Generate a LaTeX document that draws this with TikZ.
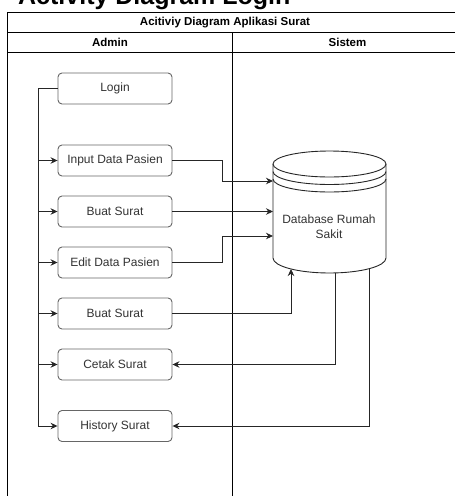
\documentclass[tikz,border=0pt]{standalone}
\usepackage{fontspec}
\setmainfont{Liberation Sans}
\usetikzlibrary{arrows.meta}
\definecolor{boxline}{HTML}{666666}
\definecolor{txt}{HTML}{333333}
\begin{document}
\begin{tikzpicture}[x=1pt,y=-1pt,
  act/.style={draw=boxline,line width=0.9pt,rounded corners=4pt,fill=white,
    minimum width=114pt,minimum height=31pt,inner sep=0pt,text=txt,
    font=\fontsize{12}{14}\selectfont},
  conn/.style={line width=0.9pt,draw=black!85},
  arr/.style={conn,-{Stealth[length=7pt,width=6.5pt]}},
  frame/.style={line width=0.9pt,draw=black},
  hdr/.style={font=\bfseries\fontsize{11.5}{13}\selectfont,inner sep=0pt}]
\useasboundingbox (0,0) rectangle (455,496);
\begin{scope}
\clip (0,0) rectangle (455,496);
% cropped heading
\node[anchor=base west,inner sep=0pt,font=\bfseries\fontsize{25}{28}\selectfont] (bigtitle) at (18,4) {Activity Diagram Login};
% frame
\draw[frame] (7,500) -- (7,12) -- (460,12);
\draw[frame] (7,32) -- (460,32);
\draw[frame] (7,52) -- (460,52);
\draw[frame] (232,32) -- (232,500);
\node[hdr] (ttl) at (225,22.5) {Acitiviy Diagram Aplikasi Surat};
\node[hdr] (ladmin) at (110,42) {Admin};
\node[hdr] (lsistem) at (347.5,42) {Sistem};

% activities
\node[act] (login) at (115,88.5) {Login};
\node[act] (input) at (115,160.5) {Input Data Pasien};
\node[act] (buat1) at (115,211.5) {Buat Surat};
\node[act] (edit) at (115,262.5) {Edit Data Pasien};
\node[act] (buat2) at (115,313.5) {Buat Surat};
\node[act] (cetak) at (115,364.5) {Cetak Surat};
\node[act] (hist) at (115,426) {History Surat};

% database cylinder
\node[minimum width=113pt,minimum height=122pt,inner sep=0pt] (db) at (329.5,212) {};
\begin{scope}[line width=0.9pt,draw=black!85]
\filldraw[fill=white] (273,164) -- (273,258) arc[start angle=180,end angle=360,x radius=56.5,y radius=-15]
  -- (386,164) arc[start angle=0,end angle=180,x radius=56.5,y radius=-13] -- cycle;
\draw (273,164) arc[start angle=180,end angle=360,x radius=56.5,y radius=-13];
\draw (273,171.5) arc[start angle=180,end angle=360,x radius=56.5,y radius=-13];
\draw (273,179) arc[start angle=180,end angle=360,x radius=56.5,y radius=-13];
\end{scope}
\node[align=center,text=txt,font=\fontsize{12}{15}\selectfont] (dbtxt) at (329,227) {Database Rumah\\Sakit};
\coordinate (dbin1) at (273,181);
\coordinate (dbin2) at (273,211.5);
\coordinate (dbin3) at (273,236);
\coordinate (dbin4) at (291,269);
\coordinate (dbout1) at (335,273);
\coordinate (dbout2) at (369,268.7);

% left bus
\coordinate (bus) at (38,88.5);
\draw[conn] (login.west) -- (bus) -- (38,426);
\draw[arr] (38,160.5) -- (input.west);
\draw[arr] (38,211.5) -- (buat1.west);
\draw[arr] (38,262.5) -- (edit.west);
\draw[arr] (38,313.5) -- (buat2.west);
\draw[arr] (38,364.5) -- (cetak.west);
\draw[arr] (38,426) -- (hist.west);

% to database
\draw[arr] (input.east) -- (222,160.5) -- (222,181) -- (dbin1);
\draw[arr] (buat1.east) -- (dbin2);
\draw[arr] (edit.east) -- (222,262.5) -- (222,236) -- (dbin3);
\draw[arr] (buat2.east) -| (dbin4);
% from database
\draw[arr] (dbout1) |- (cetak.east);
\draw[arr] (dbout2) |- (hist.east);
\end{scope}
\end{tikzpicture}
\end{document}
